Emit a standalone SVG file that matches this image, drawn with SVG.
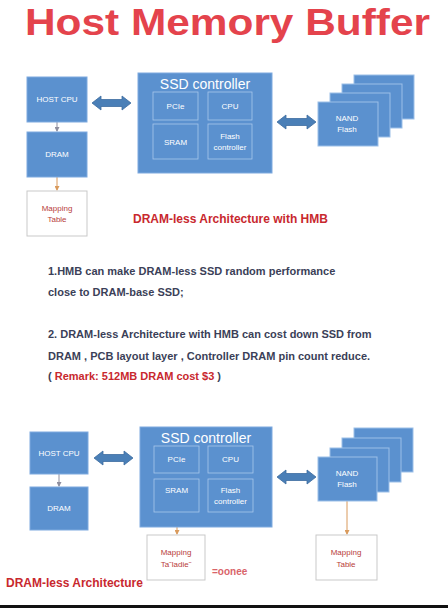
<svg xmlns="http://www.w3.org/2000/svg" xmlns:xlink="http://www.w3.org/1999/xlink" width="448" height="608" viewBox="0 0 448 608">
<style>
.blk{fill:#5b91cf;stroke:#7eaadf;stroke-width:1}
.inner{fill:#5b91cf;stroke:#a8c7ec;stroke-width:0.8}
.nand{fill:#5b91cf;stroke:#9cbfe8;stroke-width:1}
.map{fill:#ffffff;stroke:#c9c9c9;stroke-width:1}
.wt{font-family:"Liberation Sans",Arial,sans-serif;font-size:8px;fill:#ffffff;text-anchor:middle}
.ttl{font-family:"Liberation Sans",Arial,sans-serif;font-size:14px;fill:#ffffff;text-anchor:middle}
.mt{font-family:"Liberation Sans",Arial,sans-serif;font-size:8px;fill:#b8403a;text-anchor:middle}
.cap{font-family:"Liberation Sans",Arial,sans-serif;font-size:12px;font-weight:bold;fill:#c8282e}
.body{font-family:"Liberation Sans",Arial,sans-serif;font-size:11px;font-weight:bold;fill:#3b3f58}
.red{fill:#c8282e}
.con{stroke:#d99a5c;stroke-width:1;fill:none}
.cong{stroke:#8f8f9f;stroke-width:1;fill:none}
.dbl{fill:#4a7fb7;stroke:#3d6c9f;stroke-width:0.8}
</style>
<defs>
<marker id="ah" markerWidth="5" markerHeight="5" refX="4" refY="2.5" orient="auto" markerUnits="userSpaceOnUse">
<path d="M0,0 L5,2.5 L0,5 z" fill="#d99a5c"/>
</marker>
<marker id="ahg" markerWidth="5" markerHeight="5" refX="4" refY="2.5" orient="auto" markerUnits="userSpaceOnUse">
<path d="M0,0 L5,2.5 L0,5 z" fill="#8f8f9f"/>
</marker>
<path id="dblarrow" class="dbl" d="M0,0 L9,-7 L9,-3.5 L30,-3.5 L30,-7 L39,0 L30,7 L30,3.5 L9,3.5 L9,7 Z"/>
</defs>
<rect width="448" height="608" fill="#ffffff"/>

<text x="25" y="35" font-family="Liberation Sans,Arial,sans-serif" font-size="37" font-weight="bold" fill="#e4434c" textLength="405" lengthAdjust="spacingAndGlyphs">Host Memory Buffer</text>

<!-- Top diagram -->
<g id="connectors-top">
<line class="cong" x1="57" y1="122" x2="57" y2="131" marker-end="url(#ahg)"/>
<line class="con" x1="57" y1="177" x2="57" y2="190" marker-end="url(#ah)"/>
<use xlink:href="#dblarrow" x="92" y="103"/>
<use xlink:href="#dblarrow" x="277" y="122"/>
</g>
<g id="top-hostcpu"><rect class="blk" x="27" y="77" width="60" height="45"/><text class="wt" x="57" y="102">HOST CPU</text></g>
<g id="top-dram"><rect class="blk" x="27" y="132" width="60" height="45"/><text class="wt" x="57" y="157">DRAM</text></g>
<g id="top-mapping"><rect class="map" x="27" y="191" width="60" height="45"/><text class="mt" x="57" y="211">Mapping</text><text class="mt" x="57" y="222">Table</text></g>
<g id="top-ssd">
<rect class="blk" x="138" y="73" width="134" height="100"/>
<text class="ttl" x="205" y="89">SSD controller</text>
<rect class="inner" x="153" y="92" width="45" height="28"/><text class="wt" x="175.5" y="108.5">PCIe</text>
<rect class="inner" x="208" y="92" width="44" height="28"/><text class="wt" x="230" y="108.5">CPU</text>
<rect class="inner" x="153" y="124" width="45" height="35"/><text class="wt" x="175.5" y="144.5">SRAM</text>
<rect class="inner" x="208" y="124" width="44" height="35"/><text class="wt" x="230" y="139">Flash</text><text class="wt" x="230" y="150">controller</text>
</g>
<g id="top-nand">
<rect class="nand" x="354" y="75" width="60" height="44"/>
<rect class="nand" x="342" y="84" width="60" height="44"/>
<rect class="nand" x="330" y="93" width="60" height="44"/>
<rect class="nand" x="318" y="102" width="60" height="44"/>
<text class="wt" x="347" y="121">NAND</text><text class="wt" x="347" y="132">Flash</text>
</g>
<text class="cap" x="133" y="223">DRAM-less Architecture with HMB</text>

<!-- Body text -->
<g id="notes">
<text class="body" x="48" y="275">1.HMB can make DRAM-less SSD random performance</text>
<text class="body" x="48" y="296">close to DRAM-base SSD;</text>
<text class="body" x="48" y="338">2. DRAM-less Architecture with HMB can cost down SSD from</text>
<text class="body" x="48" y="360">DRAM , PCB layout layer , Controller DRAM pin count reduce.</text>
<text class="body" x="48" y="380">( <tspan class="red">Remark: 512MB DRAM cost $3</tspan> )</text>
</g>

<!-- Bottom diagram -->
<g id="connectors-bottom">
<line class="cong" x1="59" y1="474" x2="59" y2="486" marker-end="url(#ahg)"/>
<line class="con" x1="177" y1="512" x2="177" y2="534" marker-end="url(#ah)"/>
<line class="con" x1="347" y1="501" x2="347" y2="534" marker-end="url(#ah)"/>
<use xlink:href="#dblarrow" x="94" y="458"/>
<use xlink:href="#dblarrow" x="277" y="477"/>
</g>
<g id="bot-hostcpu"><rect class="blk" x="30" y="432" width="58" height="42"/><text class="wt" x="59" y="456">HOST CPU</text></g>
<g id="bot-dram"><rect class="blk" x="30" y="487" width="58" height="43"/><text class="wt" x="59" y="511">DRAM</text></g>
<g id="bot-ssd">
<rect class="blk" x="140" y="427" width="132" height="100"/>
<text class="ttl" x="206" y="443">SSD controller</text>
<rect class="inner" x="154" y="446" width="45" height="27"/><text class="wt" x="176.5" y="462">PCIe</text>
<rect class="inner" x="208" y="446" width="45" height="27"/><text class="wt" x="230.5" y="462">CPU</text>
<rect class="inner" x="154" y="479" width="45" height="33"/><text class="wt" x="176.5" y="493">SRAM</text>
<rect class="inner" x="208" y="479" width="45" height="33"/><text class="wt" x="230.5" y="493">Flash</text><text class="wt" x="230.5" y="504">controller</text>
</g>
<g id="bot-nand">
<rect class="nand" x="354" y="428" width="59" height="44"/>
<rect class="nand" x="342" y="438" width="59" height="44"/>
<rect class="nand" x="330" y="448" width="59" height="44"/>
<rect class="nand" x="318" y="457" width="59" height="44"/>
<text class="wt" x="347" y="476">NAND</text><text class="wt" x="347" y="487">Flash</text>
</g>
<g id="bot-mapping1"><rect class="map" x="147" y="535" width="58" height="45"/><text class="mt" x="176" y="555">Mapping</text><text class="mt" x="176" y="567">Ta˜ladie˜</text></g>
<g id="bot-mapping2"><rect class="map" x="316" y="535" width="61" height="45"/><text class="mt" x="346" y="555">Mapping</text><text class="mt" x="346" y="567">Table</text></g>
<text x="212" y="575" font-family="Liberation Sans,Arial,sans-serif" font-size="10" font-weight="bold" fill="#d9646a">=oonee</text>
<text class="cap" x="6" y="587">DRAM-less Architecture</text>
<rect x="0" y="605" width="448" height="3" fill="#111111"/>
</svg>
